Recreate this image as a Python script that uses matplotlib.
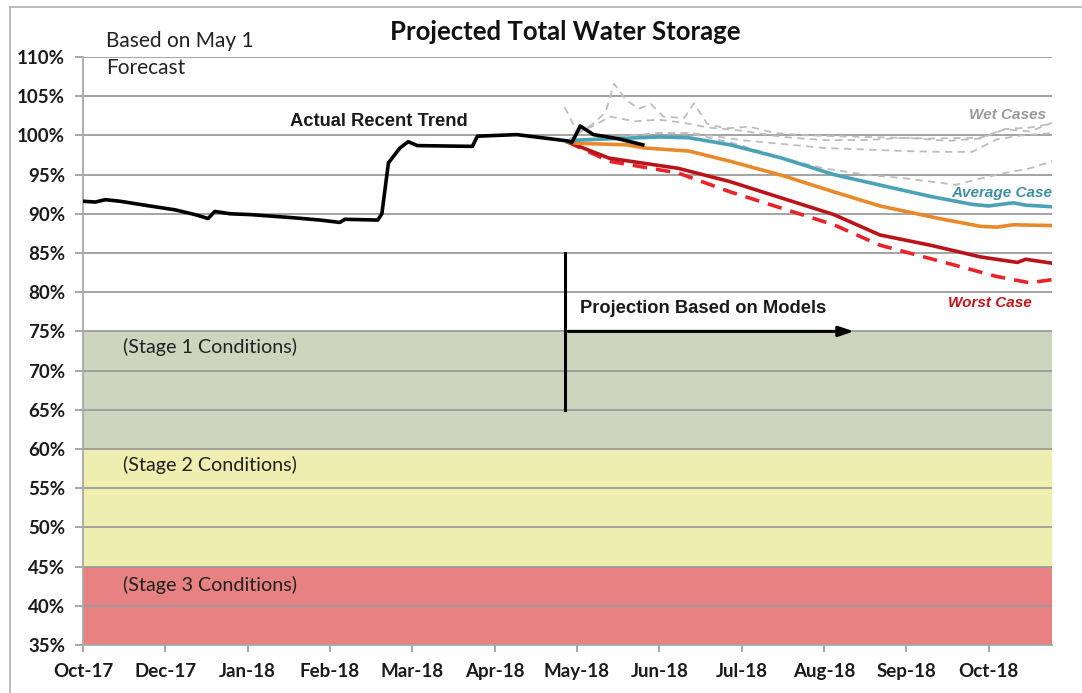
import matplotlib
matplotlib.use("Agg")
import matplotlib.pyplot as plt
from matplotlib.lines import Line2D

# ---------------- data ----------------
tick_labels = ["Oct-17", "Dec-17", "Jan-18", "Feb-18", "Mar-18", "Apr-18",
               "May-18", "Jun-18", "Jul-18", "Aug-18", "Sep-18", "Oct-18"]

actual_x = [0.0, 0.15, 0.27, 0.45, 0.81, 1.12, 1.36, 1.52, 1.60, 1.79, 2.03, 2.55,
            2.88, 3.12, 3.18, 3.58, 3.63, 3.71, 3.85, 3.95, 4.06, 4.73, 4.79, 5.27,
            5.88, 5.94, 6.04, 6.20, 6.49, 6.80]
actual_y = [91.6, 91.5, 91.8, 91.6, 91.0, 90.5, 89.9, 89.4, 90.3, 90.0, 89.9, 89.5,
            89.2, 88.9, 89.3, 89.2, 90.0, 96.5, 98.4, 99.2, 98.7, 98.6, 99.9, 100.1,
            99.3, 99.1, 101.2, 100.1, 99.6, 98.8]

avg_x = [5.88, 6.0, 6.5, 7.0, 7.36, 7.86, 8.49, 9.12, 9.75, 10.3, 10.8, 11.0, 11.3, 11.45, 11.77]
avg_y = [99.2, 99.4, 99.6, 99.8, 99.7, 98.8, 97.1, 95.0, 93.5, 92.2, 91.2, 91.0, 91.4, 91.1, 90.9]

orange_x = [5.88, 6.0, 6.6, 6.82, 7.36, 7.86, 8.49, 9.12, 9.68, 10.4, 10.9, 11.1, 11.3, 11.77]
orange_y = [99.2, 99.0, 98.8, 98.4, 98.0, 96.7, 94.9, 92.8, 91.0, 89.4, 88.4, 88.3, 88.6, 88.5]

dred_x = [5.88, 6.39, 7.23, 7.86, 8.49, 9.12, 9.68, 10.29, 10.9, 11.35, 11.45, 11.77]
dred_y = [99.2, 97.1, 95.8, 94.1, 92.0, 89.9, 87.3, 86.0, 84.5, 83.8, 84.2, 83.7]

worst_x = [5.88, 6.39, 7.23, 7.86, 8.49, 9.12, 9.68, 10.5, 11.1, 11.5, 11.77]
worst_y = [99.2, 96.7, 95.2, 92.8, 90.7, 88.6, 86.0, 83.7, 82.0, 81.2, 81.6]

wet1_x = [5.88, 6.2, 6.35, 6.45, 6.6, 6.75, 6.9, 7.05, 7.3, 7.42, 7.58, 7.8, 8.1, 8.4,
          8.8, 9.5, 10.3, 10.9, 11.2, 11.5, 11.77]
wet1_y = [99.3, 101.5, 103.0, 106.6, 104.5, 103.4, 104.0, 102.4, 102.2, 104.1, 101.5,
          100.9, 101.1, 100.3, 100.0, 99.8, 99.6, 99.7, 100.8, 101.0, 101.5]
wet2_x = [5.85, 6.0, 6.2, 6.4, 6.7, 7.0, 7.3, 7.6, 8.0, 8.5, 9.0, 9.5, 10.0, 10.5,
          10.9, 11.2, 11.5, 11.77]
wet2_y = [103.6, 100.5, 101.2, 102.4, 101.8, 102.0, 101.6, 101.0, 100.6, 99.8, 99.4,
          99.4, 99.7, 99.3, 99.6, 100.8, 100.5, 101.6]
wet3_x = [5.88, 6.5, 7.0, 7.4, 8.0, 8.5, 9.0, 9.5, 10.0, 10.4, 10.8, 11.1, 11.4, 11.77]
wet3_y = [99.3, 99.8, 100.3, 100.3, 99.4, 98.9, 98.4, 98.2, 98.0, 97.9, 97.9, 99.5, 100.0, 100.3]
wet4_x = [5.88, 6.5, 7.0, 7.4, 7.9, 8.5, 9.0, 9.5, 10.0, 10.3, 10.6, 10.9, 11.2, 11.5, 11.77]
wet4_y = [99.3, 99.8, 100.3, 100.2, 99.0, 97.1, 95.8, 95.0, 94.5, 94.1, 93.7, 94.5, 95.2, 95.8, 96.7]

stage_bands = [(60, 75), (45, 60), (35, 45)]
stage_labels = ["(Stage 1 Conditions)", "(Stage 2 Conditions)", "(Stage 3 Conditions)"]
stage_colors = ["#CDD5BE", "#EFEEB1", "#E88282"]
y_ticks = list(range(35, 111, 5))

# ---------------- figure ----------------
W, H = 1082, 693
fig = plt.figure(figsize=(W / 100, H / 100), dpi=100)
L, R, T, B = 83, 1052, 57, 645
ax = fig.add_axes([L / W, 1 - B / H, (R - L) / W, (B - T) / H])

# figure frame (left/top)
fig.add_artist(Line2D([10 / W, 10 / W], [0, 1 - 7 / H], transform=fig.transFigure,
                      color="#B0B0B0", lw=1.2))
fig.add_artist(Line2D([10 / W, 1], [1 - 7 / H, 1 - 7 / H], transform=fig.transFigure,
                      color="#B0B0B0", lw=1.2))

ax.set_xlim(0, 11.77)
ax.set_ylim(35, 110)

for (lo, hi), c in zip(stage_bands, stage_colors):
    ax.axhspan(lo, hi, color=c, zorder=0.3, lw=0)

ax.set_axisbelow(True)
ax.set_yticks(y_ticks)
ax.set_yticklabels([f"{v}%" for v in y_ticks])
ax.yaxis.grid(True, color="#9C9C9C", lw=1.3)
ax.set_xticks(range(len(tick_labels)))
ax.set_xticklabels(tick_labels)

for s in ["top", "right"]:
    ax.spines[s].set_visible(False)
for s in ["left", "bottom"]:
    ax.spines[s].set_color("#A8A8A8")
    ax.spines[s].set_linewidth(1.3)
ax.tick_params(axis="y", length=6, color="#A0A0A0", width=1.3, pad=7)
ax.tick_params(axis="x", length=5, color="#A0A0A0", width=1.3, pad=8)
for lab in ax.get_yticklabels():
    lab.set_fontfamily("Lato")
    lab.set_fontweight("bold")
    lab.set_fontsize(13.5)
    lab.set_color("#1A1A1A")
for lab in ax.get_xticklabels():
    lab.set_fontfamily("Lato")
    lab.set_fontweight("bold")
    lab.set_fontsize(13.5)
    lab.set_color("#1A1A1A")

# wet cases
for wx, wy in [(wet1_x, wet1_y), (wet2_x, wet2_y), (wet3_x, wet3_y), (wet4_x, wet4_y)]:
    ax.plot(wx, wy, color="#BDBDBD", lw=1.3, ls=(0, (4, 3)), zorder=2)

ax.plot(worst_x, worst_y, color="#E8242A", lw=2.6, ls=(0, (4, 2.5)), zorder=3)
ax.plot(dred_x, dred_y, color="#B8141A", lw=2.6, zorder=3)
ax.plot(orange_x, orange_y, color="#E8892B", lw=2.6, zorder=3)
ax.plot(avg_x, avg_y, color="#4AA2B6", lw=2.6, zorder=3)
ax.plot(actual_x, actual_y, color="black", lw=2.6, zorder=4)

# projection marker
ax.plot([5.86, 5.86], [65, 85], color="black", lw=2.2, zorder=4)
ax.annotate("", xy=(9.4, 75), xytext=(5.86, 75),
            arrowprops=dict(arrowstyle="-|>,head_length=0.9,head_width=0.3",
                            color="black", lw=2.2), zorder=4)
ax.text(6.04, 77.9, "Projection Based on Models", fontfamily="Liberation Sans",
        fontweight="bold", fontsize=13.2, va="center", ha="left", color="#1A1A1A")

# labels
ax.text(2.52, 101.75, "Actual Recent Trend", fontfamily="Liberation Sans",
        fontweight="bold", fontsize=13.2, va="center", ha="left", color="#1A1A1A")
ax.text(11.7, 102.6, "Wet Cases", fontfamily="Liberation Sans", fontweight="bold",
        fontstyle="italic", fontsize=11, va="center", ha="right", color="#9A9A9A")
ax.text(11.77, 92.6, "Average Case", fontfamily="Liberation Sans", fontweight="bold",
        fontstyle="italic", fontsize=11, va="center", ha="right", color="#3F8FA3")
ax.text(11.53, 78.6, "Worst Case", fontfamily="Liberation Sans", fontweight="bold",
        fontstyle="italic", fontsize=11, va="center", ha="right", color="#C0141B")

band_label_y = [73.0, 58.0, 42.7]
for lbl, yy in zip(stage_labels, band_label_y):
    ax.text(0.49, yy, lbl, fontfamily="Lato", fontsize=14.2, va="center", ha="left",
            color="#222222")

fig.text(565 / W, 1 - 32 / H, "Projected Total Water Storage", fontfamily="Lato",
         fontweight="bold", fontsize=18.5, ha="center", va="center", color="#111111")
fig.text(106 / W, 1 - 41 / H, "Based on May 1", fontfamily="Lato", fontsize=15,
         ha="left", va="center", color="#222222")
fig.text(106 / W, 1 - 68 / H, "Forecast", fontfamily="Lato", fontsize=15,
         ha="left", va="center", color="#222222")

fig.savefig("out.png", dpi=100)
